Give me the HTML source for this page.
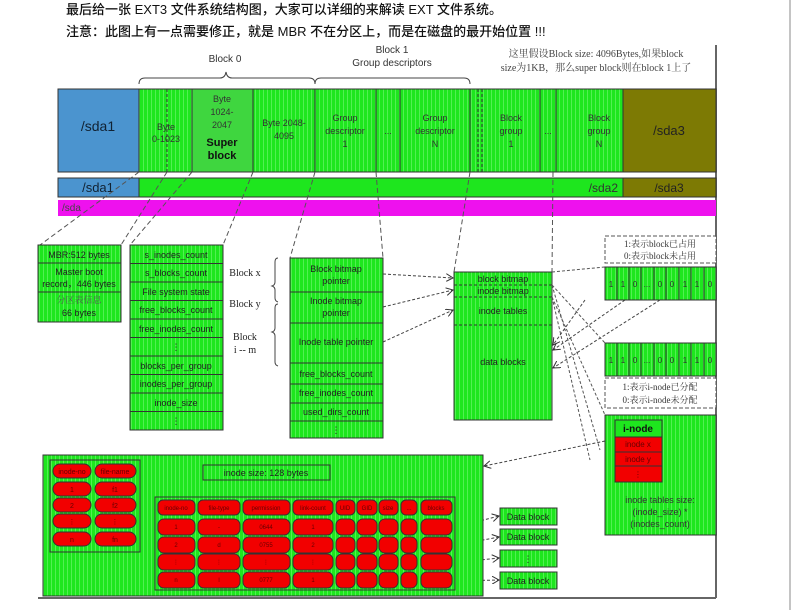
<!DOCTYPE html>
<html><head><meta charset="utf-8"><style>
html,body{margin:0;padding:0;background:#fff;}
svg{display:block;}
text{font-family:"Liberation Sans","DejaVu Sans","Noto Sans CJK SC",sans-serif;}
.s{font-family:"Liberation Serif","Noto Serif CJK SC",serif;}
</style></head><body>
<svg width="794" height="610" viewBox="0 0 794 610" xmlns="http://www.w3.org/2000/svg">
<defs>
<pattern id="g" width="4" height="4" patternUnits="userSpaceOnUse">
<rect width="4" height="4" fill="#1ee61e"/><rect x="3" width="1" height="4" fill="#52f052"/>
</pattern>
<marker id="a" markerWidth="8" markerHeight="8" refX="7" refY="4" orient="auto"><path d="M0,0 L7,4 L0,8" fill="none" stroke="#333" stroke-width="1"/></marker>
</defs>
<text x="66" y="14" font-size="13" fill="#111" font-weight="500" font-family="'Liberation Sans','Noto Sans CJK SC',sans-serif">最后给一张 EXT3 文件系统结构图，大家可以详细的来解读 EXT 文件系统。</text>
<text x="66" y="36" font-size="13" fill="#111" font-weight="500" font-family="'Liberation Sans','Noto Sans CJK SC',sans-serif">注意：此图上有一点需要修正，就是 MBR 不在分区上，而是在磁盘的最开始位置 !!!</text>
<line x1="790" y1="0" x2="790" y2="610" stroke="#888" stroke-width="1"/>
<line x1="716" y1="45" x2="716" y2="598" stroke="#666" stroke-width="2"/>
<line x1="38" y1="598" x2="716" y2="598" stroke="#666" stroke-width="2"/>
<text x="225" y="62" font-size="10" text-anchor="middle" fill="#333">Block 0</text>
<path d="M139,84 q0,-6 6,-6 h75 q5,0 6,-6 q1,6 6,6 h77 q6,0 6,6" fill="none" stroke="#444"/>
<text x="392" y="53" font-size="10" text-anchor="middle" fill="#333">Block 1</text>
<text x="392" y="66" font-size="10" text-anchor="middle" fill="#333">Group descriptors</text>
<path d="M315,84 q0,-6 6,-6 h143 q6,0 6,6" fill="none" stroke="#444"/>
<text x="596" y="57" font-size="10" text-anchor="middle" fill="#444" class="s">这里假设Block size: 4096Bytes,如果block</text>
<text x="596" y="71" font-size="10" text-anchor="middle" fill="#444" class="s">size为1KB，那么super block则在block 1上了</text>
<rect x="58" y="89" width="81" height="83" fill="#4b94cf" stroke="#333"/>
<text x="98" y="131" font-size="14" text-anchor="middle" fill="#123">/sda1</text>
<rect x="139" y="89" width="484" height="83" fill="url(#g)" stroke="#333"/>
<rect x="192" y="89" width="61" height="83" fill="#3fd63f" stroke="#333"/>
<line x1="167" y1="89" x2="167" y2="172" stroke="#333" stroke-dasharray="3,2"/>
<g stroke="#333"><line x1="315" y1="89" x2="315" y2="172"/><line x1="376" y1="89" x2="376" y2="172"/><line x1="400" y1="89" x2="400" y2="172"/><line x1="470" y1="89" x2="470" y2="172"/><line x1="478" y1="89" x2="478" y2="172" stroke-dasharray="3,2"/><line x1="482" y1="89" x2="482" y2="172" stroke-dasharray="3,2"/><line x1="540" y1="89" x2="540" y2="172"/><line x1="556" y1="89" x2="556" y2="172"/></g>
<g font-size="9" fill="#333" text-anchor="middle">
<text x="166" y="130">Byte</text><text x="166" y="142">0-1023</text>
<text x="222" y="102">Byte</text><text x="222" y="115">1024-</text><text x="222" y="128">2047</text>
<text x="222" y="146" font-size="11" font-weight="bold" fill="#111">Super</text><text x="222" y="159" font-size="11" font-weight="bold" fill="#111">block</text>
<text x="284" y="126">Byte 2048-</text><text x="284" y="139">4095</text>
<text x="345" y="121">Group</text><text x="345" y="134">descriptor</text><text x="345" y="147">1</text>
<text x="388" y="134">...</text>
<text x="435" y="121">Group</text><text x="435" y="134">descriptor</text><text x="435" y="147">N</text>
<text x="511" y="121">Block</text><text x="511" y="134">group</text><text x="511" y="147">1</text>
<text x="548" y="134">...</text>
<text x="599" y="121">Block</text><text x="599" y="134">group</text><text x="599" y="147">N</text>
</g>
<rect x="623" y="89" width="93" height="83" fill="#7d7a04" stroke="#333"/>
<text x="669" y="135" font-size="13" text-anchor="middle" fill="#222">/sda3</text>
<rect x="58" y="178" width="81" height="19" fill="#4b94cf" stroke="#333"/>
<text x="98" y="192" font-size="13" text-anchor="middle" fill="#123">/sda1</text>
<rect x="139" y="178" width="484" height="19" fill="#1ee61e" stroke="#333"/>
<text x="618" y="192" font-size="12" text-anchor="end" fill="#333">/sda2</text>
<rect x="623" y="178" width="93" height="19" fill="#7d7a04" stroke="#333"/>
<text x="669" y="192" font-size="12" text-anchor="middle" fill="#222">/sda3</text>
<rect x="58" y="200" width="658" height="16" fill="#ee11ee"/>
<text x="62" y="211" font-size="10" fill="#444">/sda</text>
<g stroke="#555" stroke-dasharray="5,3" fill="none">
<line x1="139" y1="172" x2="40" y2="245"/><line x1="167" y1="172" x2="121" y2="245"/>
<line x1="192" y1="172" x2="130" y2="245"/><line x1="253" y1="172" x2="223" y2="245"/>
<line x1="315" y1="172" x2="290" y2="258"/><line x1="376" y1="172" x2="383" y2="258"/>
<line x1="470" y1="172" x2="454" y2="272"/><line x1="553" y1="172" x2="552" y2="272"/>
</g>
<rect x="38" y="245" width="83" height="77" fill="url(#g)" stroke="#333"/>
<line x1="38" y1="263" x2="121" y2="263" stroke="#333"/><line x1="38" y1="292" x2="121" y2="292" stroke="#333"/>
<g font-size="9" fill="#222" text-anchor="middle">
<text x="79" y="258">MBR:512 bytes</text><text x="79" y="275">Master boot</text><text x="79" y="287">record，446 bytes</text>
<text x="79" y="303" class="s" fill="#555">分区表信息</text><text x="79" y="316">66 bytes</text>
</g>
<rect x="130" y="245" width="93" height="185" fill="url(#g)" stroke="#333"/>
<g stroke="#333"><line x1="130" y1="263.5" x2="223" y2="263.5"/><line x1="130" y1="282" x2="223" y2="282"/><line x1="130" y1="300.5" x2="223" y2="300.5"/><line x1="130" y1="319" x2="223" y2="319"/><line x1="130" y1="337.5" x2="223" y2="337.5"/><line x1="130" y1="356" x2="223" y2="356"/><line x1="130" y1="374.5" x2="223" y2="374.5"/><line x1="130" y1="393" x2="223" y2="393"/><line x1="130" y1="411.5" x2="223" y2="411.5"/></g>
<g font-size="9" fill="#222" text-anchor="middle">
<text x="176" y="258">s_inodes_count</text><text x="176" y="276">s_blocks_count</text><text x="176" y="295">File system state</text><text x="176" y="313">free_blocks_count</text><text x="176" y="332">free_inodes_count</text><text x="176" y="350">⋮</text><text x="176" y="369">blocks_per_group</text><text x="176" y="387">inodes_per_group</text><text x="176" y="406">inode_size</text><text x="176" y="424">⋮</text>
</g>
<g font-size="10" fill="#222" text-anchor="middle">
<text x="245" y="276" class="s">Block x</text><text x="245" y="307" class="s">Block y</text><text x="245" y="340" class="s">Block</text><text x="245" y="353" class="s">i -- m</text>
</g>
<path d="M278,258 q-3,0 -3,4 v20 q0,3 -3,4 q3,1 3,4 v8 q0,3 3,4 M278,304 q-3,0 -3,4 v20 q0,3 -3,4 q3,1 3,4 v26 q0,3 3,4" fill="none" stroke="#444"/>
<rect x="290" y="258" width="93" height="180" fill="url(#g)" stroke="#333"/>
<g stroke="#333"><line x1="290" y1="292" x2="383" y2="292"/><line x1="290" y1="323" x2="383" y2="323"/><line x1="290" y1="363" x2="383" y2="363"/><line x1="290" y1="384" x2="383" y2="384"/><line x1="290" y1="403" x2="383" y2="403"/><line x1="290" y1="421" x2="383" y2="421"/></g>
<g font-size="9" fill="#222" text-anchor="middle">
<text x="336" y="272">Block bitmap</text><text x="336" y="284">pointer</text>
<text x="336" y="304">Inode bitmap</text><text x="336" y="316">pointer</text>
<text x="336" y="345">Inode table pointer</text>
<text x="336" y="377">free_blocks_count</text><text x="336" y="396">free_inodes_count</text><text x="336" y="415">used_dirs_count</text><text x="336" y="433">⋮</text>
</g>
<rect x="454" y="272" width="98" height="148" fill="url(#g)" stroke="#333"/>
<g stroke="#333" stroke-dasharray="3,2"><line x1="454" y1="285" x2="552" y2="285"/><line x1="454" y1="297" x2="552" y2="297"/><line x1="454" y1="325" x2="552" y2="325"/></g>
<g font-size="9" fill="#222" text-anchor="middle">
<text x="503" y="282">block bitmap</text><text x="503" y="294">inode bitmap</text><text x="503" y="314">inode tables</text><text x="503" y="365">data blocks</text>
</g>
<g stroke="#444" stroke-dasharray="3,2" fill="none" marker-end="url(#a)">
<line x1="383" y1="274" x2="453" y2="278"/><line x1="383" y1="307" x2="453" y2="290"/><line x1="383" y1="342" x2="453" y2="310"/>
<line x1="585" y1="300" x2="553" y2="345"/><line x1="625" y1="300" x2="553" y2="350"/><line x1="660" y1="300" x2="553" y2="368"/>
<line x1="610" y1="440" x2="484" y2="466"/>
<line x1="452" y1="528" x2="499" y2="516"/><line x1="452" y1="546" x2="499" y2="537"/><line x1="452" y1="563" x2="499" y2="558"/><line x1="452" y1="581" x2="499" y2="580"/>
</g>
<g stroke="#555" stroke-dasharray="3,2" fill="none">
<line x1="552" y1="272" x2="605" y2="267"/><line x1="552" y1="285" x2="605" y2="343"/>
<line x1="552" y1="297" x2="605" y2="415"/><line x1="552" y1="285" x2="600" y2="450"/>
<line x1="552" y1="297" x2="590" y2="460"/>
</g>
<rect x="605" y="236" width="111" height="27" fill="#fff" stroke="#555" stroke-dasharray="4,2"/>
<text x="660" y="247" font-size="9" text-anchor="middle" fill="#333" class="s">1:表示block已占用</text>
<text x="660" y="259" font-size="9" text-anchor="middle" fill="#333" class="s">0:表示block未占用</text>
<g id="bm">
<rect x="605" y="267" width="111" height="33" fill="url(#g)" stroke="#333"/>
<g stroke="#333"><line x1="617" y1="267" x2="617" y2="300"/><line x1="629" y1="267" x2="629" y2="300"/><line x1="641" y1="267" x2="641" y2="300"/><line x1="654" y1="267" x2="654" y2="300"/><line x1="666" y1="267" x2="666" y2="300"/><line x1="679" y1="267" x2="679" y2="300"/><line x1="691" y1="267" x2="691" y2="300"/><line x1="704" y1="267" x2="704" y2="300"/></g>
<g font-size="8" fill="#333" text-anchor="middle"><text x="611" y="287">1</text><text x="623" y="287">1</text><text x="635" y="287">0</text><text x="647" y="287">...</text><text x="660" y="287">0</text><text x="672" y="287">0</text><text x="685" y="287">1</text><text x="697" y="287">1</text><text x="710" y="287">0</text></g>
</g>
<use href="#bm" y="76"/>
<rect x="605" y="378" width="111" height="30" fill="#fff" stroke="#555" stroke-dasharray="4,2"/>
<text x="660" y="390" font-size="9" text-anchor="middle" fill="#333" class="s">1:表示i-node已分配</text>
<text x="660" y="403" font-size="9" text-anchor="middle" fill="#333" class="s">0:表示i-node未分配</text>
<rect x="605" y="415" width="111" height="120" fill="url(#g)" stroke="#333"/>
<rect x="615" y="420" width="47" height="17" fill="#1ee61e" stroke="#333"/>
<text x="638" y="432" font-size="10" font-weight="bold" text-anchor="middle" fill="#111">i-node</text>
<rect x="615" y="437" width="47" height="45" fill="#f20000" stroke="#333"/>
<line x1="615" y1="452" x2="662" y2="452" stroke="#333"/><line x1="615" y1="466" x2="662" y2="466" stroke="#333"/>
<g font-size="8" fill="#600" text-anchor="middle"><text x="638" y="447">inode x</text><text x="638" y="462">inode y</text><text x="638" y="477">⋮</text></g>
<g font-size="9" fill="#333" text-anchor="middle"><text x="660" y="503">inode tables size:</text><text x="660" y="515">(inode_size) *</text><text x="660" y="527">(inodes_count)</text></g>
<rect x="43" y="455" width="440" height="141" fill="url(#g)" stroke="#333"/>
<rect x="50" y="460" width="90" height="92" fill="none" stroke="#333"/>
<g fill="#f20000" stroke="#333">
<rect x="53" y="464" width="38" height="14" rx="7"/><rect x="95" y="464" width="41" height="14" rx="7"/>
<rect x="53" y="482" width="38" height="14" rx="7"/><rect x="95" y="482" width="41" height="14" rx="7"/>
<rect x="53" y="498" width="38" height="14" rx="7"/><rect x="95" y="498" width="41" height="14" rx="7"/>
<rect x="53" y="514" width="38" height="14" rx="7"/><rect x="95" y="514" width="41" height="14" rx="7"/>
<rect x="53" y="532" width="38" height="14" rx="7"/><rect x="95" y="532" width="41" height="14" rx="7"/>
</g>
<g font-size="7" fill="#600" text-anchor="middle">
<text x="72" y="474">inode-no</text><text x="115" y="474">file-name</text>
<text x="72" y="492">1</text><text x="115" y="492">f1</text><text x="72" y="508">2</text><text x="115" y="508">f2</text>
<text x="72" y="524">⋮</text><text x="115" y="524">⋮</text><text x="72" y="542">n</text><text x="115" y="542">fn</text>
</g>
<rect x="203" y="465" width="127" height="15" fill="none" stroke="#333"/>
<text x="266" y="476" font-size="9" text-anchor="middle" fill="#222">inode size: 128 bytes</text>
<rect x="155" y="497" width="300" height="93" fill="none" stroke="#333"/>
<g fill="#f20000" stroke="#333">
<rect x="158" y="500" width="37" height="15" rx="5"/><rect x="198" y="500" width="42" height="15" rx="5"/><rect x="243" y="500" width="47" height="15" rx="5"/><rect x="293" y="500" width="40" height="15" rx="5"/><rect x="336" y="500" width="19" height="15" rx="5"/><rect x="357" y="500" width="20" height="15" rx="5"/><rect x="379" y="500" width="19" height="15" rx="5"/><rect x="401" y="500" width="16" height="15" rx="5"/><rect x="421" y="500" width="31" height="15" rx="5"/>
</g>
<g id="rw" fill="#f20000" stroke="#333">
<rect x="158" y="519" width="37" height="16" rx="6"/><rect x="198" y="519" width="42" height="16" rx="6"/><rect x="243" y="519" width="47" height="16" rx="6"/><rect x="293" y="519" width="40" height="16" rx="6"/><rect x="336" y="519" width="19" height="16" rx="6"/><rect x="357" y="519" width="20" height="16" rx="6"/><rect x="379" y="519" width="19" height="16" rx="6"/><rect x="401" y="519" width="16" height="16" rx="6"/><rect x="421" y="519" width="31" height="16" rx="6"/>
</g>
<use href="#rw" y="18"/><use href="#rw" y="35"/><use href="#rw" y="53"/>
<g font-size="6" fill="#600" text-anchor="middle">
<text x="176" y="510">inode-no</text><text x="219" y="510">file-type</text><text x="266" y="510">permission</text><text x="313" y="510">link-count</text><text x="345" y="510">UID</text><text x="367" y="510">GID</text><text x="388" y="510">size</text><text x="409" y="510">...</text><text x="436" y="510">blocks</text>
<text x="176" y="529">1</text><text x="219" y="529">-</text><text x="266" y="529">0644</text><text x="313" y="529">1</text>
<text x="176" y="547">2</text><text x="219" y="547">d</text><text x="266" y="547">0755</text><text x="313" y="547">2</text>
<text x="176" y="564">⋮</text><text x="219" y="564">⋮</text><text x="266" y="564">⋮</text><text x="313" y="564">⋮</text>
<text x="176" y="582">n</text><text x="219" y="582">l</text><text x="266" y="582">0777</text><text x="313" y="582">1</text>
</g>
<g fill="url(#g)" stroke="#333">
<rect x="500" y="508" width="57" height="17"/><rect x="500" y="529" width="57" height="16"/><rect x="500" y="550" width="57" height="17"/><rect x="500" y="572" width="57" height="17"/>
</g>
<g font-size="9" fill="#222" text-anchor="middle"><text x="528" y="520">Data block</text><text x="528" y="540">Data block</text><text x="528" y="562">⋮</text><text x="528" y="584">Data block</text></g>
</svg>
</body></html>
